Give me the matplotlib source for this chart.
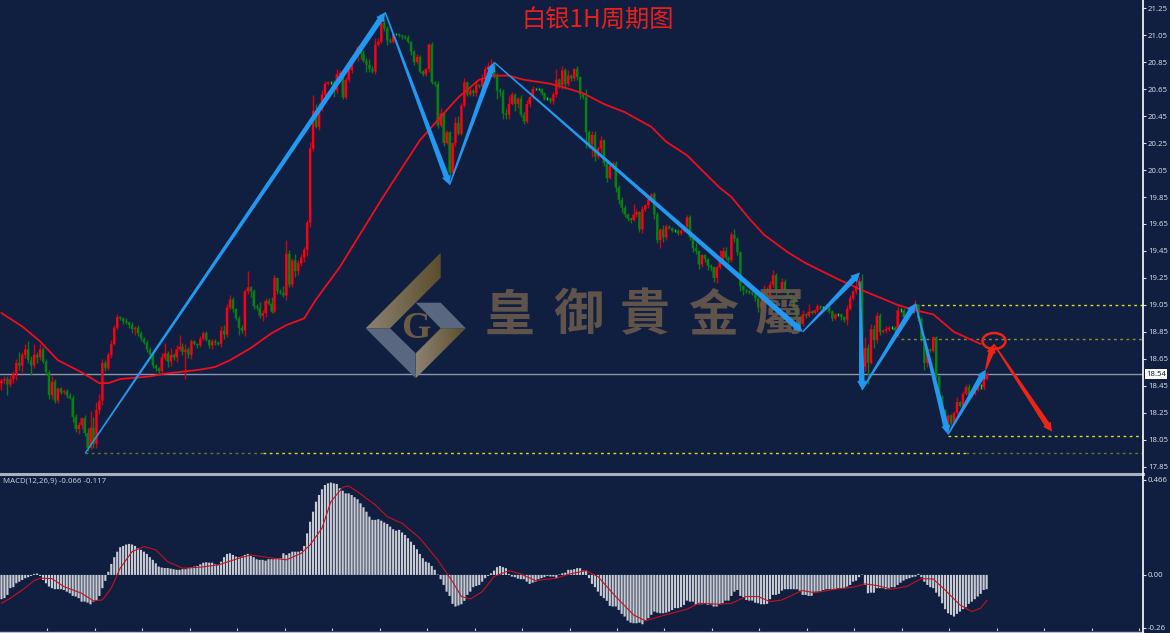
import numpy as np
import matplotlib
matplotlib.use("Agg")
import matplotlib.pyplot as plt
from matplotlib.colors import LinearSegmentedColormap
from matplotlib.lines import Line2D
from matplotlib.patches import Polygon, Ellipse
from matplotlib.transforms import Affine2D

W, H = 1170, 633
BG = "#101f40"

# hourly closes
closes = [
    18.49,18.50,18.46,18.50,18.54,18.62,18.60,18.68,18.72,18.64,18.60,18.68,18.66,18.72,18.63,18.55,18.38,18.48,18.34,18.43,
    18.40,18.41,18.38,18.36,18.22,18.13,18.16,18.21,18.10,17.99,18.14,18.02,18.27,18.34,18.62,18.58,18.68,18.76,18.88,18.96,
    18.95,18.93,18.92,18.90,18.87,18.88,18.84,18.80,18.77,18.72,18.68,18.60,18.58,18.56,18.66,18.69,18.63,18.68,18.66,18.72,
    18.74,18.70,18.72,18.68,18.78,18.76,18.75,18.80,18.84,18.79,18.75,18.78,18.77,18.76,18.86,18.83,19.03,19.09,19.02,18.95,
    18.88,18.86,19.15,19.18,19.15,19.04,19.03,18.97,18.99,19.08,19.06,19.00,19.25,19.15,19.14,19.12,19.43,19.20,19.38,19.30,
    19.36,19.40,19.46,19.66,20.21,20.49,20.37,20.51,20.61,20.69,20.70,20.70,20.64,20.76,20.77,20.59,20.72,20.79,20.88,20.89,
    20.96,20.91,20.86,20.83,20.80,20.78,20.98,21.00,21.14,21.10,21.01,21.00,21.06,21.06,21.05,21.04,21.03,21.00,20.93,20.85,
    20.89,20.78,20.76,20.80,20.98,20.70,20.69,20.38,20.47,20.25,20.33,20.03,20.25,20.40,20.32,20.53,20.70,20.61,20.64,20.62,
    20.68,20.67,20.73,20.80,20.82,20.83,20.75,20.64,20.63,20.47,20.46,20.54,20.61,20.54,20.58,20.46,20.41,20.54,20.59,20.65,
    20.65,20.65,20.62,20.58,20.58,20.56,20.61,20.72,20.68,20.79,20.69,20.75,20.73,20.80,20.74,20.61,20.59,20.33,20.24,20.31,
    20.15,20.21,20.27,20.10,19.99,20.08,20.10,19.92,19.83,19.77,19.72,19.69,19.68,19.72,19.74,19.61,19.76,19.79,19.83,19.87,
    19.72,19.53,19.61,19.55,19.63,19.62,19.60,19.60,19.58,19.60,19.63,19.70,19.55,19.47,19.45,19.35,19.42,19.39,19.34,19.33,
    19.25,19.33,19.38,19.45,19.40,19.38,19.57,19.54,19.44,19.19,19.16,19.15,19.14,19.13,19.10,19.03,19.07,19.16,19.12,19.20,
    19.27,19.15,19.16,19.22,19.16,19.12,19.10,19.03,18.96,18.91,18.98,18.97,19.00,18.99,19.01,19.04,19.03,19.03,19.03,19.00,
    18.95,18.98,18.98,18.96,18.94,19.02,19.10,19.15,19.19,19.23,18.59,18.73,18.62,18.87,18.79,18.97,18.85,18.86,18.87,18.88,
    18.88,18.86,19.01,19.01,18.96,18.98,19.01,19.02,19.05,18.95,18.80,18.62,18.72,18.71,18.81,18.52,18.37,18.27,18.15,18.23,
    18.17,18.25,18.33,18.30,18.39,18.44,18.38,18.39,18.42,18.44,18.44,18.50,18.54,
]
first_open = 18.47

# wick lengths above / below the body, in cents
up_wick = [
    2,2,2,3,2,3,8,2,4,6,3,8,2,4,2,2,2,4,2,1,
    1,2,2,2,2,2,2,1,2,4,12,8,6,5,3,2,2,3,2,2,
    1,1,2,1,2,1,2,2,1,2,2,1,1,1,3,8,2,5,1,3,
    9,3,4,2,2,1,1,2,2,2,1,2,2,1,3,4,3,3,2,1,
    2,2,2,12,1,2,2,4,2,2,2,5,2,1,2,5,10,3,2,5,
    2,3,2,2,5,12,5,4,3,2,1,1,2,4,2,3,2,3,2,5,
    2,2,3,2,4,2,5,3,4,3,2,2,1,1,1,1,1,2,1,1,
    2,1,1,1,1,2,1,2,4,1,2,1,1,4,5,2,3,1,2,1,
    4,1,3,2,3,4,2,2,2,2,3,6,2,1,1,3,2,3,1,2,
    1,1,1,1,1,1,2,8,1,3,2,4,1,1,2,1,2,6,2,3,
    3,2,3,1,2,1,2,2,2,2,2,1,1,8,2,1,2,1,2,1,
    2,2,1,3,2,1,1,1,1,1,1,2,2,1,4,1,1,1,1,1,
    1,1,8,3,3,1,2,4,1,1,1,1,1,1,1,1,3,4,2,3,
    4,2,1,3,2,1,1,1,1,1,3,1,6,1,1,2,1,1,1,2,
    1,1,1,1,1,3,2,1,5,3,5,8,3,4,3,3,2,1,2,1,
    1,1,3,2,2,1,1,1,4,1,1,2,2,1,1,1,1,1,1,1,
    1,1,4,1,2,2,2,1,1,2,2,2,1,
]
down_wick = [
    5,3,8,2,3,5,3,5,2,2,7,2,4,2,1,2,3,3,2,2,
    1,1,2,1,4,2,4,3,2,2,1,3,3,3,3,2,1,2,1,1,
    1,2,1,2,3,4,2,2,1,2,2,2,2,3,2,2,4,3,2,3,
    1,2,20,2,3,1,2,1,1,1,2,3,2,1,2,3,2,1,2,1,
    5,2,4,2,4,2,2,2,4,3,1,1,1,2,1,1,3,2,2,4,
    3,2,3,5,3,2,1,2,2,1,1,1,5,2,1,1,1,2,2,1,
    3,4,1,5,2,1,2,1,1,2,3,1,1,1,1,2,1,1,3,2,
    1,1,1,1,2,1,2,2,1,2,1,2,1,2,1,1,1,1,1,2,
    2,1,1,1,2,1,2,6,3,4,3,3,1,5,3,2,2,1,2,1,
    1,1,1,1,1,1,2,2,2,3,4,2,2,2,2,3,1,12,3,9,
    3,2,3,2,3,1,2,3,3,3,2,2,2,1,2,2,3,1,2,1,
    3,2,6,3,2,1,1,1,1,1,1,1,2,3,2,3,2,2,3,3,
    3,4,1,1,2,2,1,2,2,4,4,1,1,1,2,3,1,1,2,2,
    2,3,1,1,1,1,1,2,1,3,2,2,1,1,1,1,1,1,1,1,
    2,1,1,2,2,4,1,1,2,2,2,3,16,1,6,2,2,1,2,1,
    1,1,5,1,1,1,1,1,1,2,2,5,3,1,1,1,1,2,1,2,
    1,1,1,1,2,1,3,1,1,1,1,2,1,
]

# moving average, read at the bends
ma_bars = [0,7,13,19,27,33,36,40,45,50,55,67,72,77,84,91,96,102,106,114,128,133,141,147,154,161,166,171,176,185,190,196,
           203,210,219,224,231,236,242,246,252,257,265,271,282,291,302,308,314,321,328,330]
ma_vals = [18.99,18.89,18.78,18.64,18.55,18.47,18.47,18.50,18.51,18.52,18.54,18.57,18.59,18.64,18.73,18.84,18.90,18.95,19.09,19.33,
           19.83,20.00,20.27,20.42,20.59,20.72,20.75,20.75,20.72,20.69,20.66,20.62,20.54,20.48,20.37,20.26,20.16,20.05,19.92,19.85,
           19.69,19.57,19.44,19.36,19.24,19.15,19.05,19.01,18.98,18.85,18.78,18.76]

# MACD histogram in thousandths
macd_hist = [
    -119,-114,-98,-65,-60,-41,-33,-25,-16,-11,-5,5,7,-5,-25,-41,-57,-65,-70,-70,
    -70,-74,-82,-90,-103,-106,-114,-131,-131,-136,-144,-131,-126,-103,-65,-29,16,54,87,114,
    136,142,149,152,149,142,131,123,114,103,87,74,57,41,36,34,34,31,28,25,
    25,28,28,33,38,41,44,52,60,62,60,60,52,49,65,87,103,106,98,90,
    87,90,98,103,93,87,77,74,74,70,77,77,77,82,82,106,98,106,114,114,
    114,118,142,204,261,310,359,392,420,441,449,453,449,446,425,413,400,400,392,381,
    371,351,332,310,286,270,270,273,266,257,250,237,224,217,221,208,196,180,163,147,
    126,103,82,65,60,44,25,2,-21,-49,-82,-103,-142,-155,-150,-144,-127,-98,-82,-60,
    -54,-49,-33,-16,-5,8,21,38,44,38,33,5,-8,-11,-18,-21,-21,-33,-44,-38,
    -33,-21,-16,-11,-5,-8,-8,-16,2,8,11,25,25,28,33,33,21,21,-16,-44,
    -60,-82,-103,-114,-127,-152,-155,-155,-172,-191,-204,-224,-234,-237,-237,-234,-242,-221,-212,-196,
    -180,-185,-188,-188,-185,-180,-172,-163,-163,-158,-147,-126,-131,-131,-147,-144,-144,-142,-147,-144,
    -155,-155,-142,-139,-126,-126,-103,-82,-74,-103,-109,-123,-126,-126,-136,-139,-144,-144,-142,-119,
    -98,-98,-93,-77,-70,-70,-70,-70,-70,-77,-98,-98,-103,-103,-82,-82,-82,-74,-70,-70,
    -70,-70,-65,-65,-65,-57,-49,-33,-28,-11,2,-49,-90,-87,-87,-65,-65,-65,-70,-70,
    -60,-60,-49,-38,-28,-21,-16,-11,-8,5,-11,-33,-49,-60,-65,-87,-106,-139,-168,-188,
    -196,-204,-191,-180,-168,-158,-142,-131,-119,-106,-93,-74,-70,
]
signal_bars = [0,3,7,11,13,17,21,27,31,34,37,40,44,48,52,56,61,67,73,79,84,90,96,101,104,108,111,115,117,120,126,130,
               135,141,147,152,155,158,162,166,171,175,180,187,191,197,201,207,213,217,223,231,235,242,246,251,255,259,263,269,
               270,274,281,287,291,295,300,305,310,314,318,323,327,330,332]
signal_vals = [-139,-114,-74,-28,-16,-18,-57,-90,-127,-123,-65,33,114,139,123,65,33,38,49,77,98,85,74,106,147,229,359,430,436,408,343,286,
               253,180,74,-33,-106,-118,-82,-8,21,5,-28,-16,3,21,-8,-106,-196,-225,-199,-168,-139,-144,-139,-106,-106,-131,-123,-82,
               -77,-87,-70,-60,-44,-52,-70,-57,-18,-20,-74,-147,-180,-163,-126]

price_ticks = [21.25,21.05,20.85,20.65,20.45,20.25,20.05,19.85,19.65,19.45,19.25,19.05,18.85,18.65,18.45,18.25,18.05,17.85]
last_price = 18.54

# (bar, price) end points of the hand drawn legs
blue_legs = [(28.2,17.95,129.3,21.22),(129.3,21.22,151,19.94),(151,19.94,166,20.85),(166,20.85,270,18.85),(270,18.85,289.3,19.29),
             (289.3,19.22,290,18.42),(290,18.42,308,19.06),(308,19.06,319,18.09),(319,18.09,331.7,18.57)]
red_legs = [(331.7,18.57,334.4,18.76),(334.4,18.76,354,18.11)]
# price, first bar, last bar, colour
levels = [(17.95,28.2,88,"#6f6f30"),(17.95,88,325,"#d8d820"),(17.95,325,385,"#6f6f30"),
          (19.05,308,385,"#d8d820"),(18.80,303,385,"#8f8f30"),(18.08,319,385,"#d8d820")]

closes = np.array(closes)
opens = np.r_[first_open, closes[:-1]]
highs = np.maximum(opens, closes) + np.array(up_wick) / 100
lows = np.minimum(opens, closes) - np.array(down_wick) / 100
bars = np.arange(len(closes))

plt.rcParams["font.family"] = ["Noto Sans", "DejaVu Sans"]
fig = plt.figure(figsize=(W / 100, H / 100), dpi=100, facecolor=BG)
# pixel positions measured from the top left of the picture
px = Affine2D().scale(1, -1).translate(0, H)


def pane(top, bottom):
    a = fig.add_axes([0, 1 - bottom / H, 1143 / W, (bottom - top) / H], facecolor=BG)
    a.set_xlim(-0.5, 384.7)
    for s in a.spines.values():
        s.set_visible(False)
    a.set_xticks([])
    a.tick_params(axis="y", length=2, width=0.8, color="#d8dce4", labelcolor="#d4d8e0", labelsize=5.6,
                  right=True, left=False, labelright=True, labelleft=False, pad=1.5)
    return a


def taper(a, leg, color, w0=0.7, w1=2.8, head_w=4.6, head_l=9):
    # thin at the tail, thick at the arrow head
    p0 = a.transData.transform(leg[:2])
    p1 = a.transData.transform(leg[2:])
    d = (p1 - p0) / np.hypot(*(p1 - p0))
    n = np.array([-d[1], d[0]])
    neck = p1 - d * head_l
    pts = [p0 + n * w0, neck + n * w1, neck + n * head_w, p1, neck - n * head_w, neck - n * w1, p0 - n * w0]
    a.add_patch(Polygon(pts, closed=True, fc=color, ec="none", transform=None, zorder=6, clip_on=False))


ax = pane(0, 472)

ax.axhline(last_price, color="#8c94a8", lw=1, zorder=1)
ax.plot(ma_bars, ma_vals, color="#f00d1c", lw=1.3, zorder=3)

# candles
up = closes > opens
flat = closes == opens
body_low = np.minimum(opens, closes)
body_h = np.abs(closes - opens)
wick_col = np.where(flat, "#10e020", np.where(up, "#d80010", "#0a7a12"))
ax.vlines(bars, lows, highs, colors=wick_col, lw=1.0, zorder=2)
ax.bar(bars[up], body_h[up], bottom=body_low[up], width=0.8, color="#ff0010", lw=0, zorder=2.5, snap=False)
dn = ~up & ~flat
ax.bar(bars[dn], body_h[dn], bottom=body_low[dn], width=0.8, color="#0a8014", lw=0, zorder=2.5, snap=False)

# dotted support / resistance levels
for price, b0, b1, c in levels:
    ax.plot([b0, b1], [price, price], color=c, lw=1, dashes=(2, 2.5), zorder=2)

# watermark logo and name
grey = "#5a6780"
gold_map = LinearSegmentedColormap.from_list("gold", ["#8c8272", "#5c4e2c"])
gold_parts = [
    ([(365.7,328.3),(440.7,252.7),(440.7,277.7),(390,328.3)], (365.7, 440.7)),
    ([(415.7,378.3),(415.7,353.3),(440.7,328.3),(465.7,328.3)], (415.7, 465.7)),
]
grey_parts = [
    [(365.7,328.3),(390,328.3),(415.7,353.3),(415.7,378.3)],
    [(415.7,302.7),(440.7,302.7),(465.7,328.3),(440.7,328.3)],
]
for pts, (x0, x1) in gold_parts:
    im = ax.imshow(np.linspace(0, 1, 64).reshape(1, -1), cmap=gold_map, aspect="auto", zorder=4,
                   extent=(x0, x1, 380, 250), transform=px, interpolation="bilinear")
    im.set_clip_path(Polygon(pts, closed=True, transform=px))
for pts in grey_parts:
    ax.add_patch(Polygon(pts, closed=True, fc=grey, ec="none", transform=px, zorder=4, clip_on=False))
ax.text(415.7, 329, "G", transform=px, family="Liberation Serif", weight="bold", fontsize=27, color="#6b5b44",
        ha="center", va="center", zorder=4)
for cx, ch in zip([510, 578, 645, 713, 780], "皇御貴金屬"):
    ax.text(cx, 316, ch, transform=px, family="Noto Sans CJK TC", weight="bold", fontsize=36, color="#6a5a4c", alpha=0.9,
            ha="center", va="center", zorder=4)

# limits go last, imshow resets them
ax.set_xlim(-0.5, 384.7)
ax.set_ylim(17.811, 21.311)
ax.set_yticks(price_ticks, [f"{t:.2f}" for t in price_ticks])

# drawn legs, computed after the limits are fixed
for leg in blue_legs:
    taper(ax, leg, "#2299f0")
for leg in red_legs:
    taper(ax, leg, "#f02412")
ax.add_patch(Ellipse((994, 341), 23, 16, fc="none", ec="#f02412", lw=1.8, transform=px, zorder=6))

# last price flag
ax.text(1146, 374, f"{last_price:.2f}", transform=px, fontsize=5.6, color="#101f40", va="center", ha="left", zorder=8,
        bbox=dict(fc="white", ec="none", pad=1.0), clip_on=False)

ax.text(598, 21, "白银1H周期图", transform=px, family="Noto Sans CJK SC", fontsize=17.5, color="#e8201c",
        ha="center", va="center", zorder=7)

# MACD pane
ax2 = pane(475, 631)
ax2.set_ylim(-0.275, 0.49)
ax2.set_yticks([0.466, 0.0, -0.26], ["0.466", "0.00", "-0.26"])
ax2.bar(np.arange(len(macd_hist)), np.array(macd_hist) / 1000, width=0.72, color="#c8cbd2", lw=0, zorder=2, snap=False)
ax2.plot(signal_bars, np.array(signal_vals) / 1000, color="#c8101e", lw=0.8, zorder=3)
ax2.text(3, 481, "MACD(12,26,9) -0.066 -0.117", transform=px, fontsize=5.6, color="#c8ccd4", va="center", ha="left")

# frame lines
tick_bars = np.arange(15.44, 384, 16)
ax2.vlines(tick_bars, -0.275, -0.262, color="#c8ccd4", lw=0.8, zorder=4)
fig.add_artist(Line2D([0, 1143 / W], [1 - 473.5 / H] * 2, color="#aab0bf", lw=2.2))
fig.add_artist(Line2D([0, 1143 / W], [1 - 631.5 / H] * 2, color="#b8bcc8", lw=1))
fig.add_artist(Line2D([1143 / W] * 2, [0, 1], color="white", lw=1.2))

fig.savefig("out.png", dpi=100, facecolor=BG)
